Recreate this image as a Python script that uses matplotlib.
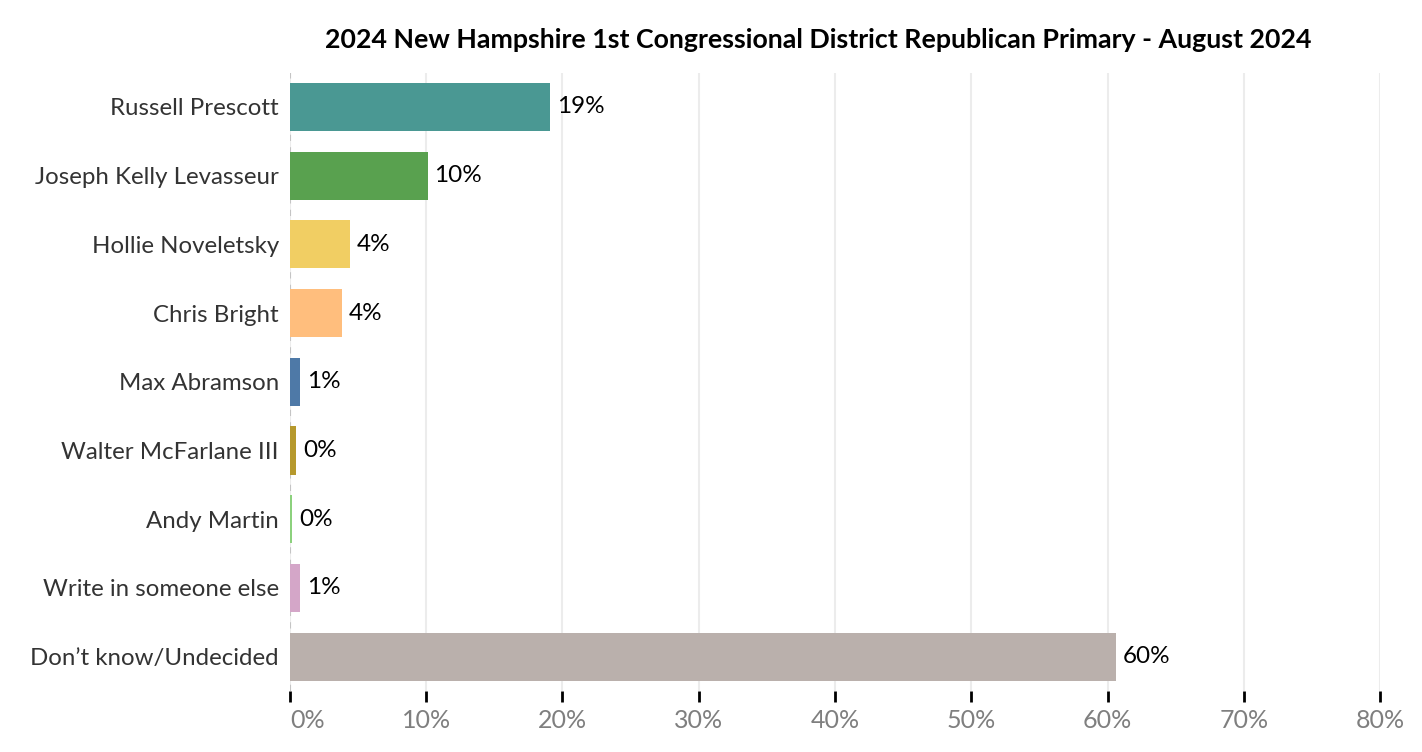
import matplotlib
matplotlib.use("Agg")
import matplotlib.pyplot as plt

# data
candidates = ["Russell Prescott", "Joseph Kelly Levasseur", "Hollie Noveletsky",
              "Chris Bright", "Max Abramson", "Walter McFarlane III", "Andy Martin",
              "Write in someone else", "Don\u2019t know/Undecided"]
shares = [19.1, 10.1, 4.4, 3.8, 0.75, 0.45, 0.15, 0.75, 60.6]
share_labels = ["19%", "10%", "4%", "4%", "1%", "0%", "0%", "1%", "60%"]
bar_colors = ["#4a9893", "#59a14f", "#f1ce63", "#ffbe7d", "#4e79a7",
              "#b6992d", "#8cd17d", "#d4a6c8", "#bab0ac"]
x_ticks = [0, 10, 20, 30, 40, 50, 60, 70, 80]

plt.rcParams['font.family'] = ['Lato', 'DejaVu Sans']

fig = plt.figure(figsize=(14.22, 7.52), dpi=100)
ax = fig.add_axes([0.2039, 0.0811, 0.7666, 0.8224])

ypos = list(range(len(candidates)))
ax.barh(ypos, shares, height=0.7, color=bar_colors, zorder=3)

for y, v, lab in zip(ypos, shares, share_labels):
    ax.annotate(lab, (v, y), xytext=(5, 0), textcoords="offset points",
                va="center", ha="left", fontsize=17.5, color="black")

ax.set_xlim(0, 80)
ax.set_ylim(len(candidates) - 0.5, -0.5)
ax.set_yticks(ypos)
ax.set_yticklabels(candidates, fontsize=17.3, color="#333333")
ax.tick_params(axis="y", length=0, pad=8)

ax.set_xticks(x_ticks)
ax.set_xticklabels([f"{t}%" for t in x_ticks], fontsize=18, color="#7f7f7f")
ax.tick_params(axis="x", length=8, width=2, color="black", pad=5)
ax.get_xticklabels()[0].set_horizontalalignment("left")

for s in ax.spines.values():
    s.set_visible(False)
ax.grid(axis="x", color="#ececec", linewidth=1.5, zorder=0)
ax.axvline(0, color="#c4c4c4", linestyle=(0, (3, 3)), linewidth=1.5, zorder=2)

fig.text(818 / 1422, 1 - 40 / 752,
         "2024 New Hampshire 1st Congressional District Republican Primary - August 2024",
         ha="center", va="center", fontsize=19.3, fontweight="bold", color="black")

fig.savefig("out.png", dpi=100)
